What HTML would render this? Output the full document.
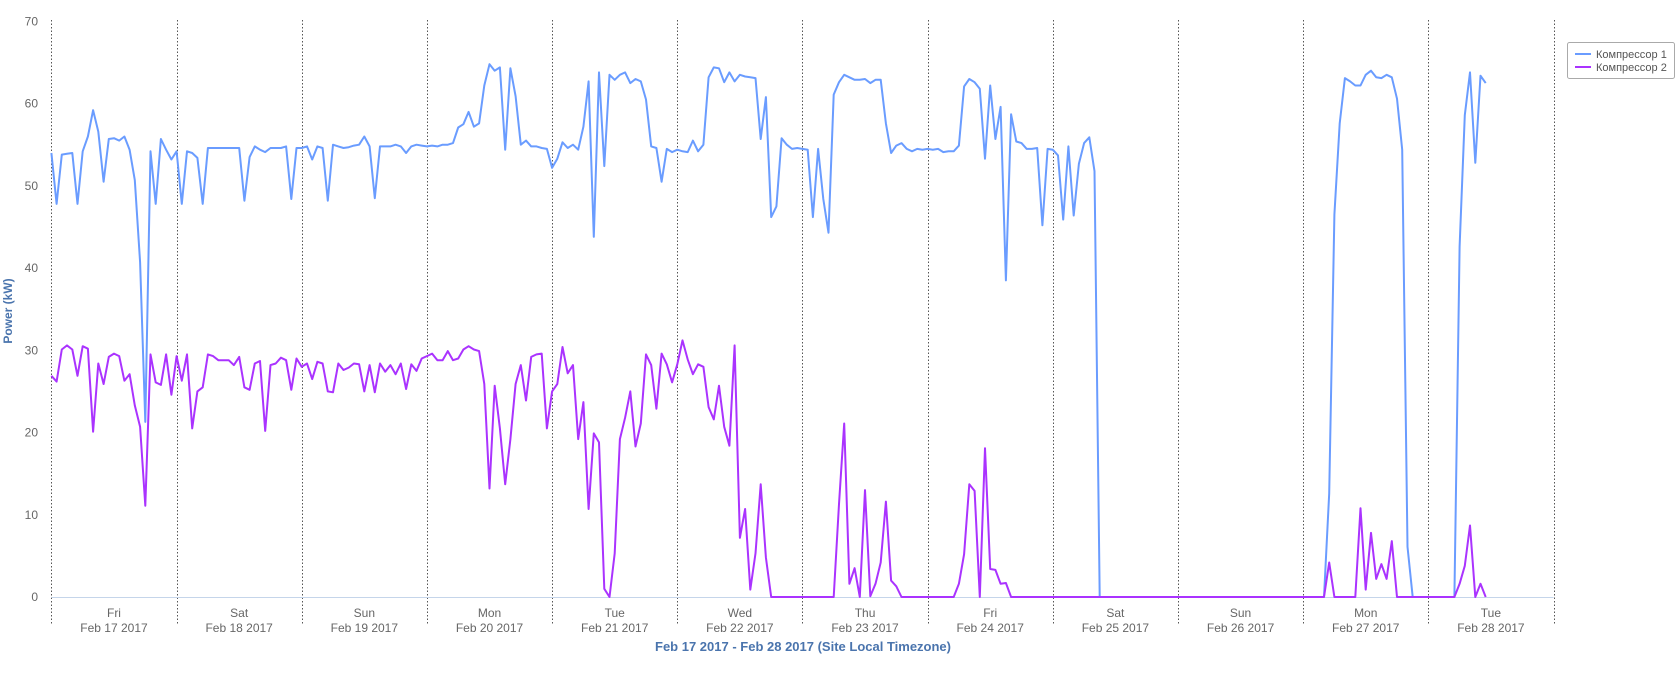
<!DOCTYPE html>
<html><head><meta charset="utf-8"><style>
body{margin:0;background:#fff;}
svg{display:block;font-family:"Liberation Sans",sans-serif;}
</style></head><body>
<svg id="chart" width="1680" height="673">
<g id="grid"></g>
<g id="yaxis"></g>
<g id="xaxis"></g>
<g id="series"></g>
<text x="9" y="311" transform="rotate(-90 9 311)" text-anchor="middle" dominant-baseline="middle" font-size="12" font-weight="bold" fill="#4a74ad">Power (kW)</text>
<text x="803" y="651" text-anchor="middle" font-size="13" font-weight="bold" fill="#4a74ad">Feb 17 2017 - Feb 28 2017 (Site Local Timezone)</text>
<g>
<rect x="1567.5" y="42.5" width="107" height="36" rx="2" fill="#fff" stroke="#aaa"/>
<g><line x1="1575" y1="54" x2="1591" y2="54" stroke="#6a9cff" stroke-width="2"/><text x="1596" y="58" font-size="11" fill="#555">Компрессор 1</text></g>
<g><line x1="1575" y1="67" x2="1591" y2="67" stroke="#aa33ff" stroke-width="2"/><text x="1596" y="71" font-size="11" fill="#555">Компрессор 2</text></g>
</g>
</svg>
<script>
const yTicks=[0,10,20,30,40,50,60,70];
const dayNames=["Fri","Sat","Sun","Mon","Tue","Wed","Thu","Fri","Sat","Sun","Mon","Tue"];
const dayDates=["Feb 17 2017","Feb 18 2017","Feb 19 2017","Feb 20 2017","Feb 21 2017","Feb 22 2017","Feb 23 2017","Feb 24 2017","Feb 25 2017","Feb 26 2017","Feb 27 2017","Feb 28 2017"];
const seriesNames=["Компрессор 1","Компрессор 2"];
const comp1=[54,47.8,53.8,53.9,54,47.8,54.2,56,59.2,56.6,50.5,55.7,55.8,55.5,56,54.4,50.7,40.7,21.3,54.2,47.8,55.7,54.4,53.2,
54.2,47.8,54.2,54,53.4,47.8,54.6,54.6,54.6,54.6,54.6,54.6,54.6,48.2,53.5,54.8,54.4,54.1,54.6,54.6,54.6,54.8,48.4,54.6,
54.6,54.8,53.2,54.8,54.6,48.2,55,54.8,54.6,54.7,54.9,55,56,54.8,48.5,54.8,54.8,54.8,55,54.8,54,54.8,55,54.9,
54.8,54.9,54.8,55,55,55.2,57.1,57.5,59,57.2,57.6,62.2,64.8,64,64.4,54.4,64.3,60.9,55,55.5,54.8,54.8,54.6,54.5,
52.2,53.3,55.3,54.6,55,54.4,57.2,62.7,43.8,63.8,52.4,63.5,62.9,63.5,63.8,62.5,63,62.7,60.5,54.8,54.6,50.5,54.5,54.1,
54.4,54.2,54.1,55.5,54.2,55,63.2,64.4,64.3,62.6,63.8,62.7,63.5,63.3,63.2,63.1,55.7,60.8,46.2,47.5,55.8,55,54.5,54.6,
54.5,54.4,46.2,54.5,48.4,44.3,61.1,62.6,63.5,63.2,62.9,62.9,63,62.5,62.9,62.9,57.6,54,54.9,55.2,54.5,54.2,54.5,54.4,
54.5,54.4,54.5,54.1,54.2,54.2,54.9,62.1,63,62.6,61.8,53.3,62.2,55.7,59.6,38.5,58.7,55.4,55.2,54.5,54.5,54.6,45.2,54.5,
54.4,53.7,45.9,54.8,46.4,52.7,55.2,55.9,51.8,0,0,0,0,0,0,0,0,0,0,0,0,0,0,0,
0,0,0,0,0,0,0,0,0,0,0,0,0,0,0,0,0,0,0,0,0,0,0,0,
0,0,0,0,0,12.6,46.5,57.6,63.1,62.7,62.2,62.2,63.5,64,63.2,63.1,63.5,63.2,60.6,54.4,6.1,0,0,0,
0,0,0,0,0,0,42.6,58.6,63.8,52.8,63.4,62.5];
const comp2=[26.9,26.2,30.1,30.6,30.1,26.9,30.5,30.2,20.1,28.4,25.9,29.2,29.6,29.3,26.3,27.1,23.3,20.7,11.1,29.5,26.1,25.8,29.5,24.6,
29.3,26.3,29.5,20.5,25,25.5,29.5,29.3,28.8,28.8,28.8,28.2,29.2,25.5,25.2,28.4,28.7,20.2,28.2,28.4,29.1,28.8,25.2,29,
28,28.4,26.5,28.6,28.4,25,24.9,28.4,27.6,27.9,28.4,28.3,25,28.2,24.9,28.4,27.4,28.2,27.1,28.4,25.3,28.3,27.5,29,
29.3,29.6,28.8,28.8,29.9,28.8,29,30.1,30.5,30.1,29.9,25.9,13.2,25.7,20.5,13.7,19.2,25.9,28.2,23.9,29.2,29.5,29.6,20.5,
25,25.9,30.4,27.2,28.2,19.2,23.7,10.7,19.9,18.8,1,0,5.3,19.2,21.8,25,18.3,21.1,29.5,28.2,22.9,29.6,28.3,26.1,
28.3,31.2,28.9,27.1,28.3,28,23.1,21.6,25.7,20.7,18.4,30.6,7.2,10.7,0.9,5.3,13.7,4.8,0,0,0,0,0,0,
0,0,0,0,0,0,0,11.3,21.1,1.6,3.5,0,13,0.1,1.6,4.2,11.6,2,1.3,0,0,0,0,0,
0,0,0,0,0,0,1.6,5.2,13.7,12.9,0,18.1,3.4,3.3,1.6,1.7,0,0,0,0,0,0,0,0,
0,0,0,0,0,0,0,0,0,0,0,0,0,0,0,0,0,0,0,0,0,0,0,0,
0,0,0,0,0,0,0,0,0,0,0,0,0,0,0,0,0,0,0,0,0,0,0,0,
0,0,0,0,0,4.2,0,0,0,0,0,10.8,0.9,7.8,2.2,4,2.2,6.8,0,0,0,0,0,0,
0,0,0,0,0,0,1.6,3.8,8.7,0,1.6,0];
const NS="http://www.w3.org/2000/svg";
const L=51.4,R=1553.5,Y0=597,Y70=21.4,HOURS=288;
const xs=h=>L+(R-L)*h/HOURS;
const ys=v=>Y0-(Y0-Y70)*v/70;
function mk(tag,attrs,parent,txt){const e=document.createElementNS(NS,tag);for(const k in attrs)e.setAttribute(k,attrs[k]);if(txt!==undefined)e.textContent=txt;parent.appendChild(e);return e;}
const grid=document.getElementById('grid'),ya=document.getElementById('yaxis'),xa=document.getElementById('xaxis'),se=document.getElementById('series');
for(let i=0;i<=dayNames.length;i++){
  const x=Math.round(xs(i*24))+0.5;
  const g=mk('line',{x1:x,x2:x,y1:20,y2:624,stroke:'#555','stroke-dasharray':'1.5,2','stroke-width':1},grid);
  
  
}
mk('line',{x1:L,x2:R,y1:Y0+0.5,y2:Y0+0.5,stroke:'#c5d5ea','stroke-width':1},grid);
yTicks.forEach(t=>{
  const e=mk('text',{x:38,y:ys(t)+4,'text-anchor':'end','font-size':12,fill:'#666'},ya,String(t));
  
  
});
dayNames.forEach((d,i)=>{
  const cx=xs(i*24+12);
  const a=mk('text',{x:cx,y:617,'text-anchor':'middle','font-size':12,fill:'#666'},xa,d);
  
  
  const b=mk('text',{x:cx,y:632,'text-anchor':'middle','font-size':12,fill:'#666'},xa,dayDates[i]);
  
  
});
[[comp1,'#6a9cff'],[comp2,'#aa33ff']].forEach(([arr,c],k)=>{
  const pts=arr.map((v,h)=>xs(h).toFixed(1)+','+ys(v).toFixed(1)).join(' ');
  const p=mk('polyline',{points:pts,fill:'none',stroke:c,'stroke-width':2,'stroke-linejoin':'round'},se);
  
  
});
</script>
</body></html>
